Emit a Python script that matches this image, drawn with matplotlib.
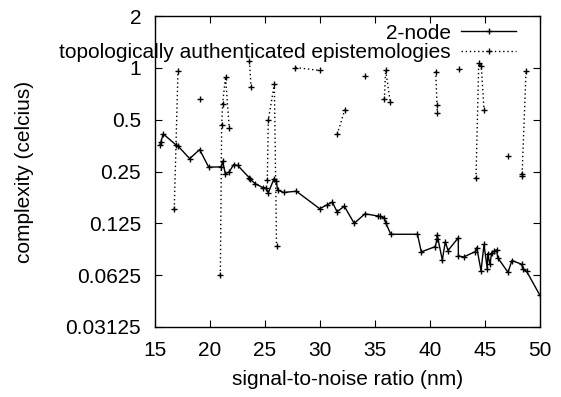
"""
Complexity vs signal-to-noise ratio, gnuplot-style look.
"""

import matplotlib
matplotlib.use('Agg')
import matplotlib.pyplot as plt
import numpy as np
from matplotlib.ticker import NullLocator

plt.rcParams.update({
    'font.family': ['Liberation Sans', 'DejaVu Sans'],
    'font.size': 15,
    'xtick.direction': 'in',
    'ytick.direction': 'in',
    'xtick.top': True,
    'ytick.right': True,
    'xtick.major.size': 5,
    'ytick.major.size': 5,
    'axes.linewidth': 1.0,
})

# ── Data ──────────────────────────────────────────────────────────────────
# series 1: "2-node" (solid)
node_x = [15.45, 15.52, 15.75, 16.88, 17.12, 18.15, 19.06, 19.88, 21.03, 21.15,
          21.39, 21.73, 22.15, 22.52, 23.57, 23.66, 24.12, 24.85, 25.09, 25.30,
          25.82, 26.03, 26.15, 26.70, 27.85, 29.97, 30.64, 31.12, 31.55, 32.21,
          33.11, 34.09, 35.23, 35.48, 35.85, 36.00, 36.43, 38.86, 39.21, 40.48,
          40.64, 40.65, 41.12, 41.39, 41.64, 42.57, 42.58, 43.06, 44.12, 44.25,
          44.64, 44.91, 45.21, 45.25, 45.45, 45.61, 45.79, 46.06, 46.15, 47.09,
          47.45, 48.34, 48.43, 48.79, 49.98]
node_y = [0.358, 0.369, 0.413, 0.358, 0.350, 0.297, 0.335, 0.265, 0.266, 0.287,
          0.243, 0.248, 0.274, 0.271, 0.230, 0.225, 0.212, 0.201, 0.201, 0.188,
          0.227, 0.219, 0.195, 0.189, 0.192, 0.152, 0.160, 0.166, 0.146, 0.157,
          0.125, 0.142, 0.138, 0.137, 0.134, 0.125, 0.108, 0.108, 0.0853, 0.0916,
          0.102, 0.107, 0.0766, 0.0975, 0.0869, 0.103, 0.0808, 0.0797, 0.0857, 0.0904,
          0.0663, 0.0942, 0.0678, 0.0834, 0.0723, 0.0845, 0.0860, 0.0876, 0.0791, 0.0649,
          0.0760, 0.0723, 0.0678, 0.0657, 0.0479]

# series 2: "topologically authenticated epistemologies" (dotted, blocks split by nan)
nan = np.nan
epi_x = [16.75, 17.09, nan,
         19.06, nan,
         20.94, 21.06, 21.15, 21.41, 21.75, nan,
         23.59, 23.73, nan,
         25.21, 25.30, 25.85, 26.05, nan,
         27.77, 30.00, nan,
         31.57, 32.25, nan,
         34.12, nan,
         35.85, 35.97, 36.39, nan,
         40.52, 40.64, 40.66, nan,
         42.61, nan,
         44.18, 44.43, 44.66, 44.91, nan,
         47.06, nan,
         48.35, 48.37, 48.73]
epi_y = [0.152, 0.961, nan,
         0.659, nan,
         0.0625, 0.465, 0.619, 0.887, 0.446, nan,
         1.09, 0.773, nan,
         0.223, 0.497, 0.805, 0.0921, nan,
         1.004, 0.965, nan,
         0.411, 0.571, nan,
         0.895, nan,
         0.659, 0.970, 0.630, nan,
         0.952, 0.605, 0.547, nan,
         0.983, nan,
         0.228, 1.06, 1.03, 0.569, nan,
         0.308, nan,
         0.243, 0.236, 0.961]

x_ticks = [15, 20, 25, 30, 35, 40, 45, 50]
y_ticks = [0.03125, 0.0625, 0.125, 0.25, 0.5, 1, 2]
y_ticklabels = ['0.03125', '0.0625', '0.125', '0.25', '0.5', '1', '2']

# ── Plot ──────────────────────────────────────────────────────────────────
fig = plt.figure(figsize=(5.61, 3.97), dpi=100)
ax = fig.add_axes([155/561, 1 - 327/397, 385/561, 311/397])

ax.plot(node_x, node_y, '-', color='black', lw=1.0,
        marker='+', ms=5, mew=1.0, label='2-node')
ax.plot(epi_x, epi_y, color='black', lw=1.0, ls=(0, (1, 2)),
        marker='+', ms=5, mew=1.0, label='topologically authenticated epistemologies')

ax.set_yscale('log', base=2)
ax.set_xlim(15, 50)
ax.set_ylim(0.03125, 2)
ax.set_xticks(x_ticks)
ax.set_xticklabels([str(t) for t in x_ticks])
ax.set_yticks(y_ticks)
ax.set_yticklabels(y_ticklabels)
ax.yaxis.set_minor_locator(NullLocator())
ax.tick_params(axis='y', pad=10)
ax.tick_params(axis='x', pad=10)

ax.set_xlabel('signal-to-noise ratio (nm)', labelpad=7)
ax.set_ylabel('complexity (celcius)', labelpad=23)

ax.legend(loc='upper right', bbox_to_anchor=(0.938, 0.975), frameon=False,
          markerfirst=False, handlelength=2.65, handletextpad=0.5,
          labelspacing=0.02, borderaxespad=0, borderpad=0, numpoints=1)

fig.savefig('out.png', dpi=100)
